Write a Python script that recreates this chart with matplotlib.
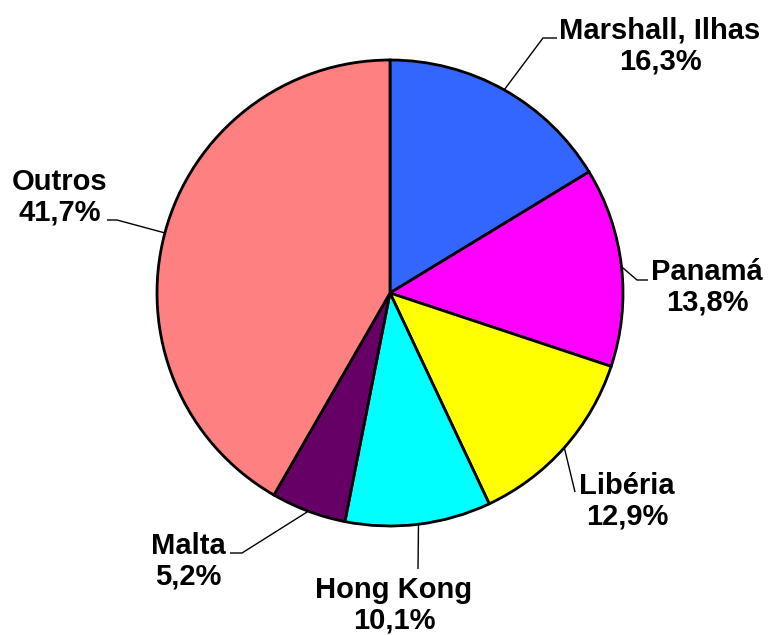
import numpy as np
import matplotlib
matplotlib.use("Agg")
import matplotlib.pyplot as plt

labels = ["Marshall, Ilhas", "Panamá", "Libéria", "Hong Kong", "Malta", "Outros"]
values = [16.3, 13.8, 12.9, 10.1, 5.2, 41.7]
colors = ["#3366FF", "#FF00FF", "#FFFF00", "#00FFFF", "#660066", "#FF8080"]

W, H = 768, 635
fig = plt.figure(figsize=(W / 100, H / 100), dpi=100)
ax = fig.add_axes([0, 0, 1, 1])

cx, cy, r = 390, H - 293, 233
wedges, _ = ax.pie(values, colors=colors, startangle=90, counterclock=False,
                   center=(cx, cy), radius=r, frame=True,
                   wedgeprops=dict(edgecolor="black", linewidth=2.0))
ax.set_xlim(0, W)
ax.set_ylim(0, H)
ax.set_aspect("equal")
ax.axis("off")

# label layout (pixel coords, y from top): text center, elbow points
layout = {
    "Marshall, Ilhas": dict(text=(660, 46), pts=[(543, 38), (557, 38)]),
    "Panamá": dict(text=(707, 287), pts=[(637, 280), (648, 280)]),
    "Libéria": dict(text=(627, 501), pts=[(575, 492)]),
    "Hong Kong": dict(text=(394, 605), pts=[(418, 569)]),
    "Malta": dict(text=(188, 561), pts=[(242, 553), (230, 553)]),
    "Outros": dict(text=(60, 197), pts=[(117, 220), (107, 220)]),
}

total = sum(values)
cum = 0.0
for lab, v in zip(labels, values):
    mid = cum + v / 2
    cum += v
    ang = np.deg2rad(90 - 360 * mid / total)
    ex, ey = cx + r * np.cos(ang), cy + r * np.sin(ang)
    L = layout[lab]
    xs = [ex] + [p[0] for p in L["pts"]]
    ys = [ey] + [H - p[1] for p in L["pts"]]
    ax.plot(xs, ys, color="black", linewidth=1.0, solid_capstyle="butt")
    tx, ty = L["text"]
    pct = f"{v:.1f}".replace(".", ",") + "%"
    ax.text(tx, H - ty, f"{lab}\n{pct}", ha="center", va="center",
            fontsize=21, fontweight="bold", family="Liberation Sans",
            linespacing=1.12)

fig.savefig("out.png", dpi=100)
